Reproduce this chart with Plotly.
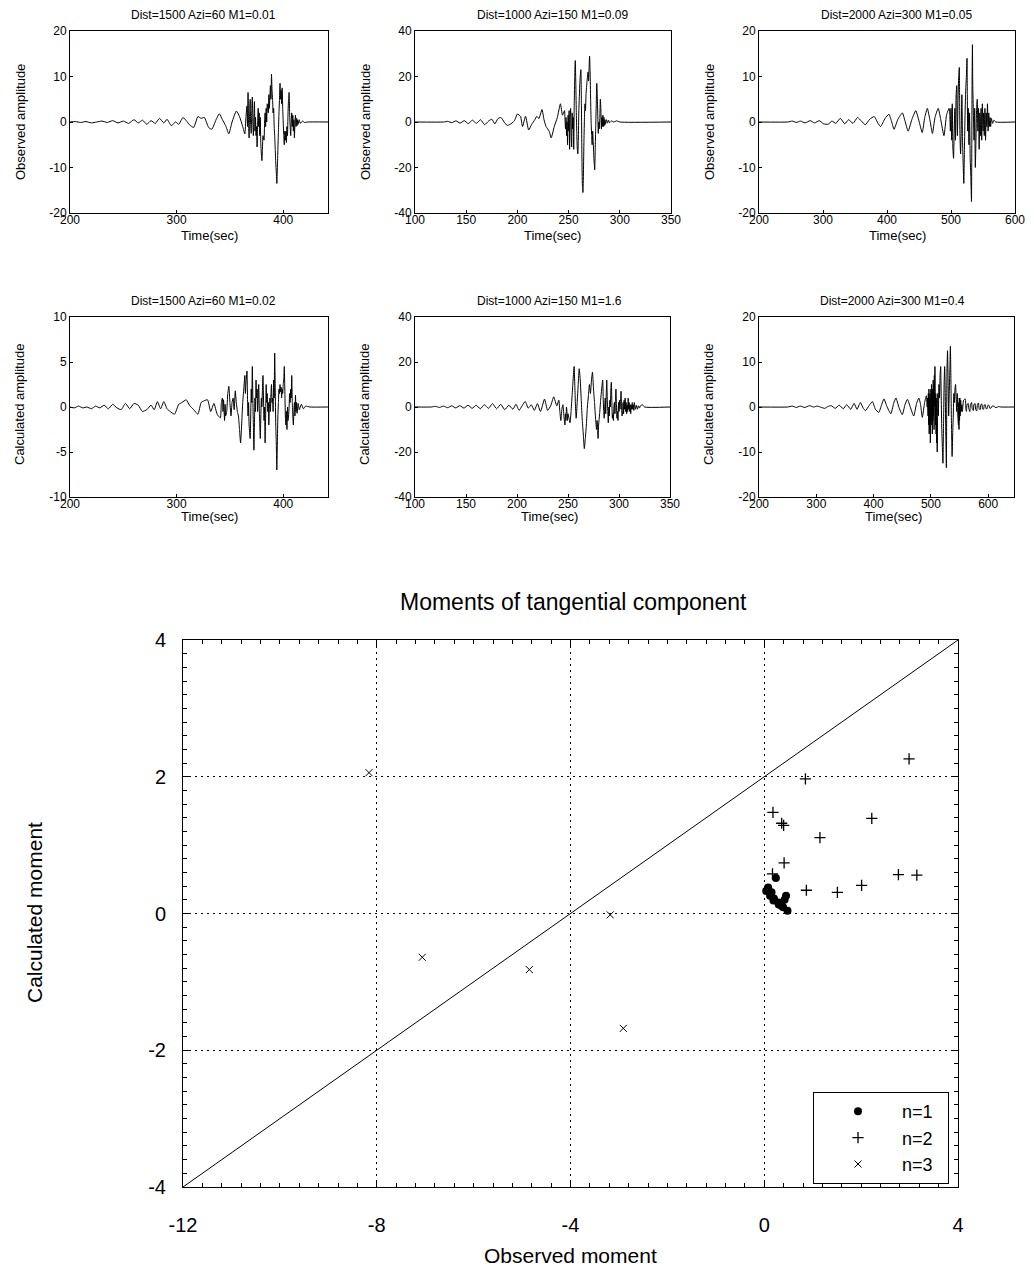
import plotly.graph_objects as go

W, H = 1034, 1273
FONT = "Liberation Sans, Arial, Helvetica, sans-serif"

# ---------------- waveform data (time sec, amplitude) ----------------
obs1 = [(200,0),(205,0.1),(210,-0.1),(215,0.1),(220,-0.2),(225,0),(230,0.2),(235,-0.1),(240,0.3),(245,-0.2),
        (250,0.2),(255,-0.3),(260,0.5),(264,-0.2),(268,0.4),(272,-0.5),(276,0.3),(280,-0.3),(284,0.8),(288,-0.2),
        (291,0.6),(295,-0.8),(299,0),(302,-0.5),(306,1.0),(309,0.3),(312,-0.6),(316,-1.2),(320,1.2),(323,0.8),
        (326,1.0),(330,-1.2),(333,-1.6),(337,0.5),(340,1.8),(343,0.5),(346,-0.8),(349,-2.6),(352,0),(356,2.4),
        (359,1.2),(362,-1.0),(364,-2.6),(365,1),(366,3.5),(366.5,-1),(367,6.5),(367.5,0),(368,-3.5),(368.5,2),
        (369,5),(369.5,-1),(370,-2.5),(370.5,3),(371,5.5),(371.5,0),(372,-3),(372.5,1),(373,4.5),(373.5,-2),
        (374,1),(374.5,-3),(375,-1),(375.5,-5.5),(376,0),(376.5,3),(377,-1),(377.5,2),(378,-3),(378.5,1),
        (379,-5),(380,-8.5),(380.5,-6),(381,-3),(382,-4),(382.5,0),(383,2),(383.5,-1),(384,3),(384.5,0),
        (385,4),(386,2),(386.5,6),(387,3),(388,8),(388.5,5),(389,10.5),(389.5,7),(390,5),(390.5,2),(391,3),
        (391.5,-1),(392,-3),(392.5,-6),(393,-9),(393.5,-11),(394,-13.5),(394.5,-10),(395,-6),(395.5,-2),(396,2),
        (396.5,5),(397,8.5),(397.5,5),(398,7),(398.5,4),(399,7.5),(399.5,3),(400,0),(400.5,-3),(401,-5),
        (401.5,-2),(402,-4),(402.5,-2),(403,-4.5),(403.5,-1),(404,-3),(404.5,2),(405,5),(405.5,6.5),(406,2),
        (406.5,-1),(407,-3),(407.5,0),(408,2),(408.5,-1),(409,1.5),(409.5,-2),(410,0.5),(410.5,-3.5),(411,0),
        (411.5,1.5),(412,-1),(412.5,0.8),(413,-0.8),(413.5,0.5),(414,-0.5),(415,0.5),(416,-0.3),(418,0.2),
        (420,-0.1),(423,0),(442,0)]

obs2 = [(100,0),(128,0),(132,0.3),(136,-0.3),(140,0.5),(144,-0.5),(148,0.6),(152,-0.7),(156,0.8),(160,-0.6),
        (164,1),(168,-1.2),(172,0.5),(175,1.2),(178,-0.8),(181,1.5),(184,2),(187,0),(190,-1.5),(193,-1),
        (197,0.5),(200,3.5),(203,2.5),(205,-2),(208,2.5),(211,-3.5),(214,-1),(217,1),(219,2.5),(221,1.5),
        (224,5.5),(226,1),(228,-2),(231,-4),(233,-7),(236,-2),(239,2),(242,8),(244,3),(246,5),(246.5,1),
        (247,-3),(247.5,2),(248,-6),(248.5,0),(249,-10),(249.5,3),(250,-4),(250.5,5),(251,-12),(251.5,2),
        (252,6),(252.5,-5),(253,-11),(253.5,4),(254,-3),(254.5,2),(255,-12),(255.5,8),(256,20),(256.5,27),
        (257,18),(257.5,5),(258,-5),(258.5,-12),(259,-14),(259.5,-8),(260,5),(261,17),(261.5,21),(262,23),
        (262.5,8),(263,-15),(263.5,-28),(264,-31),(264.5,-22),(265,-8),(265.5,2),(266,8),(266.5,5),(267,12),
        (268,18),(269,22),(269.5,18),(270,24),(270.5,29),(271,22),(271.5,10),(272,0),(272.5,-6),(273,-10),
        (273.5,-4),(274,-8),(274.5,-14),(275,-18),(275.5,-21),(276,-12),(276.5,-2),(277,8),(277.5,17),(278,12),
        (278.5,3),(279,-5),(279.5,0),(280,-3),(280.5,2),(281,10),(281.5,6),(282,-3),(282.5,2),(283,-2),
        (283.5,3),(284,-2),(284.5,2),(285,-1.5),(285.5,1),(286,-1),(287,1),(288,-0.5),(289,0.8),(290,-0.3),
        (292,0.5),(294,0),(297,0.5),(300,0),(350,0)]

obs3 = [(200,0),(245,0),(252,0.2),(258,-0.1),(265,0.2),(272,-0.2),(280,0.3),(287,-0.2),(294,0.3),(301,-0.4),
        (308,-0.5),(314,0.2),(320,-0.3),(327,0.8),(334,-0.4),(340,0.5),(347,-0.3),(354,1.0),(360,0.2),(366,-0.6),
        (373,0.6),(380,1.2),(386,-0.3),(390,-1.0),(397,0.8),(403,1.7),(407,0.2),(411,-1.6),(417,0.6),(424,2.0),
        (428,0.3),(433,-2.0),(439,0.6),(445,2.5),(450,0.2),(455,-2.3),(459,1.0),(463,3.0),(467,0.5),(471,-2.5),
        (475,1.0),(480,3.0),(484,0.5),(489,-3.0),(493,1.5),(497,3.0),(498,2),(499,-2),(500,3),(501,-4),(502,4),
        (503,-6),(504,-8),(505,-2),(506,3),(507,-4),(508,6),(509,8),(509.5,1),(510,-3),(511,5),(512,10),(513,12),
        (513.5,4),(514,-3),(515,-7),(516,-2),(517,6),(518,-4),(519,-9),(520,-13.5),(521,-6),(522,2),(523,7),
        (524,10),(525,14),(525.5,6),(526,-2),(527,3),(528,-5),(529,2),(530,-8),(531,-12),(532,-17.5),(532.5,-5),
        (533,10),(533.5,17),(534,8),(535,2),(536,-4),(537,3),(538,-10),(539,-4),(540,3),(541,5),(542,-2),(543,3),
        (544,-6),(545,2),(546,-3),(547,3),(548,-4),(549,4),(550,-2),(551,2),(552,-3),(553,3),(554,-4),(555,2),
        (556,-1),(557,4),(558,-2),(559,2),(560,-1),(561,1),(562,-1),(563,0.8),(565,-0.3),(567,0.4),(570,0),(600,0)]

calc1 = [(200,0),(204,-0.1),(208,0.1),(212,-0.1),(216,0),(220,-0.2),(224,0.1),(228,-0.1),(232,0.2),(236,-0.2),
         (240,0.3),(244,-0.1),(248,-0.3),(252,0.4),(256,-0.2),(260,0.4),(264,0.2),(268,-0.5),(272,-0.3),(276,0.2),
         (279,-0.3),(282,0.6),(285,-0.2),(288,0.6),(291,-0.2),(294,-0.5),(298,-0.8),(302,0.3),(305,0.5),(309,0.8),
         (312,0.2),(316,-0.3),(320,-0.8),(323,0.5),(326,0.7),(329,0.8),(332,-0.5),(335,0.4),(338,-0.8),(341,-1.2),
         (342,0.5),(343,1.0),(343.5,-0.5),(344,0.8),(345,-1.5),(345.5,0.3),(346,-1),(347,-0.5),(348,1.5),
         (349,2.3),(350,0.5),(351,-1),(352,0.5),(353,1.0),(354,-0.3),(355,1.8),(356,0.5),(357,-0.5),(358,-1),
         (359,-2.5),(360,-4.0),(361,-2),(362,0.5),(363,2),(364,3.5),(364.5,1.5),(365,2.5),(366,4.0),(366.5,1),
         (367,-1),(367.5,0.5),(368,-2),(369,-3.5),(369.5,-1),(370,2),(370.5,0.5),(371,4.5),(371.5,1),(372,-2),
         (372.5,-4.8),(373,-2),(373.5,1),(374,-0.5),(374.5,3),(375,1),(375.5,2),(376,-0.5),(376.5,1),(377,2.5),
         (377.5,0),(378,-2),(378.5,-3.5),(379,-1),(379.5,1),(380,0),(380.5,2),(381,3.5),(381.5,1),(382,-1.5),
         (382.5,0),(383,-4),(383.5,-1),(384,2.5),(384.5,0.5),(385,1.5),(385.5,-0.5),(386,0.5),(386.5,-2),(387,0),
         (387.5,1),(388,-0.5),(388.5,1.5),(389,2.5),(389.5,0.5),(390,1),(390.5,-0.5),(391,3),(391.5,1),(392,6),
         (392.5,2),(393,-2),(393.5,-4),(394,-7),(394.5,-4),(395,-1),(395.5,0.5),(396,2),(396.5,1.5),(397,2.5),
         (397.5,1.7),(398,2.2),(398.5,1),(399,2),(399.5,1.5),(400,2.5),(400.5,3),(401,4.5),(401.5,2),(402,-1),
         (402.5,-2),(403,-0.5),(403.5,-2.5),(404,0),(404.5,-1.5),(405,-1),(405.5,0),(406,1.5),(406.5,0.5),(407,2),
         (407.5,1),(408,3.5),(408.5,0.5),(409,-1),(409.5,-2),(410,-0.5),(410.5,0.5),(411,-1),(411.5,1.3),
         (412,-0.5),(412.5,0.5),(413,-0.7),(414,0.4),(415,-0.3),(417,0.3),(419,-0.2),(421,0.1),(425,0),(442,0)]

calc2 = [(100,0),(116,0),(120,0.3),(124,-0.2),(128,0.4),(132,-0.3),(136,0.5),(140,-0.4),(144,0.6),(148,-0.5),
         (152,0.8),(156,-0.6),(160,0.8),(164,-0.8),(168,1.0),(172,-0.6),(176,1.5),(180,-0.8),(184,1.2),(188,-1.2),
         (192,0.8),(196,-1.0),(199,1.2),(202,-1.5),(205,0.5),(208,2.5),(211,-0.5),(214,1.0),(217,-1.5),(220,1.5),
         (223,-2.0),(227,3.5),(230,-1.5),(233,0.5),(236,4.5),(239,0.5),(241,3),(242,-2),(243,-6),(244,-1),(245,1),
         (246,-4),(247,-8),(247.5,-3),(248,-6),(248.5,0),(249,-2),(249.5,-6),(250,-3),(251,-5),(252,-7),(253,-2),
         (254,5),(255,12),(256,18),(256.5,12),(257,5),(257.5,-2),(258,-5),(259,2),(260,10),(261,17),(262,12),
         (263,3),(264,-6),(265,-12),(266,-18.5),(267,-14),(268,-8),(269,0),(270,5),(271,10),(272,6),(273,12),
         (274,15.5),(275,8),(276,2),(277,-5),(278,-10),(278.5,-6),(279,-10),(279.5,-14),(280,-8),(281,-3),(282,3),
         (283,8),(284,12),(284.5,4),(285,-2),(285.5,-5),(286,0),(286.5,4),(287,-3),(287.5,6),(288,12),(288.5,4),
         (289,-2),(289.5,-7),(290,0),(290.5,-4),(291,3),(291.5,0),(292,8),(292.5,11),(293,2),(293.5,-5),(294,-3),
         (294.5,-6),(295,0),(295.5,2),(296,-3),(296.5,3),(297,8),(297.5,1),(298,-5),(298.5,-2),(299,-6),(299.5,2),
         (300,-2),(300.5,3),(301,-1),(301.5,2),(302,7),(302.5,0),(303,-4),(303.5,-2),(304,2),(304.5,-3),(305,3),
         (305.5,-1),(306,4),(306.5,-2),(307,2),(307.5,-3),(308,1),(308.5,-2),(309,4),(309.5,-1),(310,2),
         (310.5,-2),(311,1),(311.5,-3),(312,1),(312.5,-1),(313,2),(313.5,-1),(314,1),(314.5,-1.5),(315,2),
         (316,-1),(317,0.8),(318,-1),(319,0.5),(320,-0.5),(321,0.5),(323,1),(325,0),(350,0)]

calc3 = [(200,0),(250,0),(258,0.2),(265,-0.1),(272,0.2),(280,-0.1),(288,0.3),(295,0),(302,0.2),(309,-0.1),
         (315,-0.3),(320,0.1),(326,0.3),(333,-0.3),(340,0.4),(347,-0.4),(353,0.5),(360,-0.5),(366,0.8),(371,-0.5),
         (377,1.0),(382,-0.3),(386,-0.8),(392,0.3),(398,1.2),(403,-0.5),(409,-1.2),(414,0.5),(418,1.8),(423,0.2),
         (430,-1.5),(435,0.8),(439,2.0),(444,0),(450,-1.7),(455,0.6),(459,1.7),(464,0),(470,-2.0),(475,0.8),
         (479,2.0),(482,0.5),(485,-2.3),(489,1.0),(492,2.5),(493.5,0),(494,2),(495,-2),(495.5,3),(496,-4),
         (496.5,4),(497,-6),(497.5,2),(498,-5),(498.5,3),(499,-8),(499.5,-2),(500,4),(500.5,-3),(501,5),
         (501.5,-4),(502,3),(502.5,-6),(503,4),(503.5,-3),(504,6),(504.5,-2),(505,5),(505.5,-5),(506,7),
         (506.5,0),(507,9),(507.5,2),(508,-4),(508.5,3),(509,-6),(509.5,2),(510,-8),(510.5,-3),(511,-10),
         (511.5,-4),(512,3),(513,-2),(514,5),(515,2),(516,7),(517,9),(518,2),(519,-5),(520,-9),(521,-12.5),
         (522,-4),(523,5),(524,9),(525,3),(526,-6),(527,-13.5),(527.5,-2),(528,8),(529,12.5),(530,6),(531,-2),
         (532,3),(533,8),(534,13.5),(535,5),(536,-5),(537,-11),(538,-6),(539,-2),(540,3),(541,1),(542,4),(543,5),
         (544,2),(545,-1),(546,3),(547,-2),(548,-4),(548.5,1),(549,-5),(549.5,2),(550,-3),(550.5,2),(551,-2),
         (552,1.5),(553,-1),(554,0.5),(555,-1),(557,1.5),(560,1.8),(561,-0.5),(562,-1),(563,0.5),(565,0.8),
         (566,-0.3),(568,-1),(569,0.5),(571,1),(572,-0.3),(574,-0.8),(575,0.5),(577,0.8),(578,-0.5),(580,-0.9),
         (581,0.5),(583,0.9),(584,-0.3),(586,-0.6),(587,0.5),(589,0.7),(590,-0.4),(592,-0.5),(593,0.4),(595,0.5),
         (596,-0.3),(598,-0.4),(599,0.3),(601,0.4),(603,-0.3),(605,-0.2),(607,0.2),(610,0.2),(612,-0.1),
         (615,-0.1),(618,0.1),(622,0),(645,0)]

panel_titles = ["Dist=1500 Azi=60 M1=0.01", "Dist=1000 Azi=150 M1=0.09", "Dist=2000 Azi=300 M1=0.05",
                "Dist=1500 Azi=60 M1=0.02", "Dist=1000 Azi=150 M1=1.6", "Dist=2000 Azi=300 M1=0.4"]
panel_xranges = [[200, 442], [100, 350], [200, 600], [200, 442], [100, 350], [200, 645]]
panel_xticks = [[200, 300, 400], [100, 150, 200, 250, 300, 350], [200, 300, 400, 500, 600],
                [200, 300, 400], [100, 150, 200, 250, 300, 350], [200, 300, 400, 500, 600]]
panel_yranges = [[-20, 20], [-40, 40], [-20, 20], [-10, 10], [-40, 40], [-20, 20]]
panel_yticks = [[-20, -10, 0, 10, 20], [-40, -20, 0, 20, 40], [-20, -10, 0, 10, 20],
                [-10, -5, 0, 5, 10], [-40, -20, 0, 20, 40], [-20, -10, 0, 10, 20]]

# ---------------- moment scatter data ----------------
n1_x = [0.24, 0.08, 0.04, 0.15, 0.12, 0.45, 0.19, 0.29, 0.36, 0.39, 0.48, 0.20, 0.30, 0.42]
n1_y = [0.52, 0.38, 0.33, 0.31, 0.26, 0.26, 0.19, 0.16, 0.11, 0.09, 0.04, 0.22, 0.13, 0.20]
n2_x = [2.99, 0.85, 0.18, 0.36, 0.40, 2.22, 1.15, 0.41, 0.17, 2.77, 3.15, 2.01, 0.87, 1.51]
n2_y = [2.26, 1.97, 1.48, 1.32, 1.29, 1.39, 1.11, 0.74, 0.58, 0.57, 0.56, 0.41, 0.34, 0.31]
n3_x = [-8.16, -7.06, -4.85, -3.18, -2.91]
n3_y = [2.06, -0.64, -0.82, -0.02, -1.68]
diag_x = [-12, 4]
diag_y = [-4, 4]
main_xticks = [-12, -8, -4, 0, 4]
main_yticks = [-4, -2, 0, 2, 4]
legend_names = ["n=1", "n=2", "n=3"]

# ---------------- layout geometry (px) ----------------
def dx(l, r):
    return [l / W, r / W]

def dy(t, b):
    return [1 - b / H, 1 - t / H]

def labels(vals):
    return [str(v) for v in vals]

panel_boxes = [(70, 328, 31, 213), (415, 671, 31, 213), (759, 1015, 31, 213),
               (70, 328, 317, 497), (415, 670, 317, 497), (759, 1014, 317, 497)]
title_pos = [(203, 15), (552, 15), (896, 15), (203, 301), (549, 301), (892, 301)]
xlab_pos = [(209, 235), (552, 235), (897, 235), (209, 516), (549, 516), (893, 516)]
ylab_pos = [(20, 122), (365, 122), (709, 122), (20, 405), (365, 405), (709, 405)]
ylab_text = ["Observed amplitude"] * 3 + ["Calculated amplitude"] * 3

fig = go.Figure()
layout = dict(width=W, height=H, margin=dict(l=0, r=0, t=0, b=0, autoexpand=False),
              paper_bgcolor="white", plot_bgcolor="white",
              font=dict(family=FONT, color="black"), annotations=[])

waves = [obs1, obs2, obs3, calc1, calc2, calc3]
for i, wv in enumerate(waves):
    k = i + 1
    xa = "x" if k == 1 else f"x{k}"
    ya = "y" if k == 1 else f"y{k}"
    t, a = zip(*wv)
    fig.add_trace(go.Scatter(x=list(t), y=list(a), mode="lines", xaxis=xa, yaxis=ya,
                             line=dict(color="black", width=1, shape="spline", smoothing=0.5),
                             showlegend=False, hoverinfo="skip"))
    l, r, tp, bt = panel_boxes[i]
    axcommon = dict(showline=True, mirror=True, linecolor="black", linewidth=1, showgrid=False,
                    zeroline=False, ticks="inside", ticklen=3, tickcolor="black", automargin=False,
                    tickfont=dict(size=12, family=FONT, color="black"))
    layout["xaxis" if k == 1 else f"xaxis{k}"] = dict(axcommon, domain=dx(l, r), range=panel_xranges[i],
                                                      tickvals=panel_xticks[i],
                                                      ticktext=labels(panel_xticks[i]),
                                                      ticklabelstandoff=-4, anchor=ya)
    layout["yaxis" if k == 1 else f"yaxis{k}"] = dict(axcommon, domain=dy(tp, bt), range=panel_yranges[i],
                                                      tickvals=panel_yticks[i],
                                                      ticktext=labels(panel_yticks[i]), anchor=xa)
    layout["annotations"].append(dict(text=panel_titles[i], x=title_pos[i][0] / W, y=1 - title_pos[i][1] / H,
                                      xref="paper", yref="paper", showarrow=False, xanchor="center",
                                      yanchor="middle", font=dict(size=12)))
    layout["annotations"].append(dict(text="Time(sec)", x=xlab_pos[i][0] / W, y=1 - xlab_pos[i][1] / H,
                                      xref="paper", yref="paper", showarrow=False, xanchor="center",
                                      yanchor="middle", font=dict(size=13)))
    layout["annotations"].append(dict(text=ylab_text[i], x=ylab_pos[i][0] / W, y=1 - ylab_pos[i][1] / H,
                                      xref="paper", yref="paper", showarrow=False, xanchor="center",
                                      yanchor="middle", textangle=-90, font=dict(size=13)))

# ---------------- main scatter plot ----------------
pad = "\u00a0\u00a0"
fig.add_trace(go.Scatter(x=diag_x, y=diag_y, mode="lines", xaxis="x7", yaxis="y7",
                         line=dict(color="black", width=1), showlegend=False, hoverinfo="skip"))
fig.add_trace(go.Scatter(x=n1_x, y=n1_y, mode="markers", xaxis="x7", yaxis="y7", name=legend_names[0] + pad,
                         marker=dict(symbol="circle", size=8, color="black")))
fig.add_trace(go.Scatter(x=n2_x, y=n2_y, mode="markers", xaxis="x7", yaxis="y7", name=legend_names[1] + pad,
                         marker=dict(symbol="cross-thin", size=8, color="black",
                                     line=dict(color="black", width=1.3))))
fig.add_trace(go.Scatter(x=n3_x, y=n3_y, mode="markers", xaxis="x7", yaxis="y7", name=legend_names[2] + pad,
                         marker=dict(symbol="x-thin", size=7, color="black",
                                     line=dict(color="black", width=1))))

maincommon = dict(showline=True, mirror="ticks", linecolor="black", linewidth=1,
                  showgrid=True, gridcolor="black", griddash="2px,4px", gridwidth=1, zeroline=False,
                  ticks="inside", ticklen=7, tickcolor="black", automargin=False,
                  tickfont=dict(size=20, family=FONT, color="black"))
layout["xaxis7"] = dict(maincommon, domain=dx(183, 958), range=[-12, 4], tickvals=main_xticks,
                        ticktext=labels(main_xticks), anchor="y7", ticklabelstandoff=20,
                        minor=dict(ticks="inside", dtick=0.4, tick0=-12, ticklen=4, tickcolor="black",
                                   showgrid=False))
layout["yaxis7"] = dict(maincommon, domain=dy(640, 1187), range=[-4, 4], tickvals=main_yticks,
                        ticktext=labels(main_yticks), anchor="x7", ticklabelstandoff=12,
                        minor=dict(ticks="inside", dtick=0.2, tick0=-4, ticklen=4, tickcolor="black",
                                   showgrid=False))
layout["annotations"] += [
    dict(text="Moments of tangential component", x=573 / W, y=1 - 602 / H, xref="paper", yref="paper",
         showarrow=False, xanchor="center", yanchor="middle", font=dict(size=23)),
    dict(text="Observed moment", x=570 / W, y=1 - 1255 / H, xref="paper", yref="paper",
         showarrow=False, xanchor="center", yanchor="middle", font=dict(size=21)),
    dict(text="Calculated moment", x=34 / W, y=1 - 913 / H, xref="paper", yref="paper",
         showarrow=False, xanchor="center", yanchor="middle", textangle=-90, font=dict(size=21)),
]
layout["legend"] = dict(x=813 / W, y=1 - 1092 / H, xanchor="left", yanchor="top", itemwidth=78,
                        bgcolor="white", bordercolor="black", borderwidth=1,
                        font=dict(size=18, family=FONT, color="black"), tracegroupgap=0)
layout["showlegend"] = True
fig.update_layout(**layout)
fig.write_html("out.html")
